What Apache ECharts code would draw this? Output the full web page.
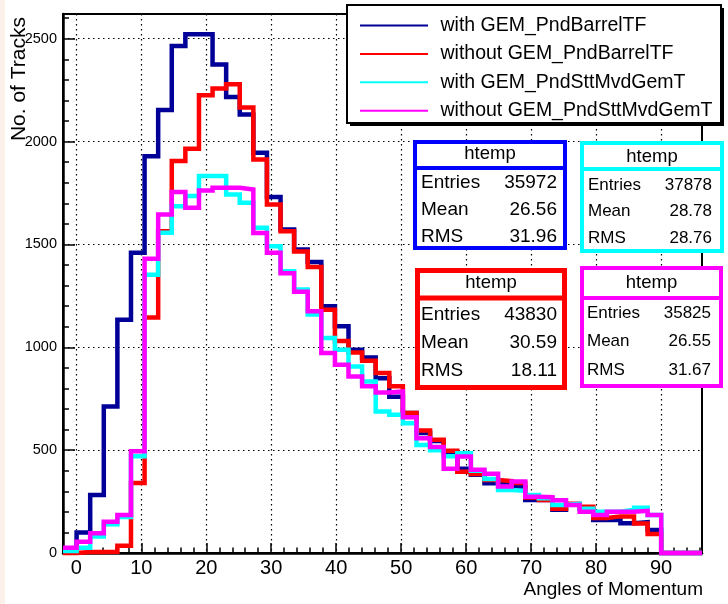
<!DOCTYPE html>
<html><head><meta charset="utf-8">
<script src="https://cdn.jsdelivr.net/npm/echarts@6/dist/echarts.min.js"></script>
<style>html,body{margin:0;padding:0;background:#fff}#c{width:728px;height:604px}</style>
</head><body><div id="c"></div>
<script>
// ---- data ----
const seriesNames = ['with GEM_PndBarrelTF', 'without GEM_PndBarrelTF', 'with GEM_PndSttMvdGemT', 'without GEM_PndSttMvdGemT'];
const xRange = [-2.05, 96.3];
const nBins = 47;
const withGemBarrel = [5, 100, 282, 712, 1134, 1459, 1929, 2153, 2465, 2522, 2522, 2375, 2217, 2132, 1946, 1731, 1572, 1475, 1415, 1199, 1102, 988, 950, 850, 760, 680, 583, 545, 490, 410, 380, 339, 330, 320, 258, 258, 210, 235, 215, 161, 161, 145, 150, 112, 0, 0, 0];
const withoutGemBarrel = [0, 5, 5, 6, 35, 340, 1145, 1564, 1905, 1965, 2225, 2258, 2278, 2165, 1913, 1694, 1564, 1465, 1390, 1183, 1030, 975, 935, 875, 810, 680, 595, 550, 497, 395, 384, 355, 350, 340, 270, 258, 215, 240, 225, 170, 178, 178, 144, 92, 0, 0, 0];
const withGemStt = [10, 25, 80, 140, 175, 470, 1353, 1557, 1686, 1735, 1832, 1832, 1743, 1702, 1581, 1491, 1370, 1281, 1159, 1045, 988, 907, 834, 688, 672, 631, 525, 500, 470, 485, 400, 360, 306, 302, 282, 266, 233, 240, 215, 201, 201, 210, 220, 185, 0, 0, 0];
const withoutGemStt = [25, 55, 96, 152, 185, 495, 1430, 1645, 1755, 1678, 1762, 1775, 1775, 1767, 1556, 1459, 1360, 1270, 1175, 972, 915, 858, 810, 780, 785, 660, 558, 515, 410, 469, 405, 385, 323, 347, 274, 271, 256, 233, 201, 185, 201, 201, 205, 185, 0, 0, 0];
const xTicks = [0, 10, 20, 30, 40, 50, 60, 70, 80, 90];
const yMax = 2620;
const xTitle = 'Angles of Momentum';
const yTitle = 'No. of Tracks';
// stats boxes: order blue, red, cyan, magenta
const statsTitle = 'htemp';
const statsEntries = ['35972', '43830', '37878', '35825'];
const statsMean = ['26.56', '30.59', '28.78', '26.55'];
const statsRms = ['31.96', '18.11', '28.76', '31.67'];

// ---- build ----
const FONT = 'Liberation Sans, Arial, Helvetica, sans-serif';
const lineColors = ['#000099', '#ff0000', '#00ffff', '#ff00ff'];
const allVals = [withGemBarrel, withoutGemBarrel, withGemStt, withoutGemStt];
const bw = (xRange[1] - xRange[0]) / nBins;
function stepData(vals) {
  const d = [];
  for (let i = 0; i < vals.length; i++) d.push([xRange[0] + i * bw, vals[i]]);
  d.push([xRange[0] + vals.length * bw, vals[vals.length - 1]]);
  return d;
}
const minorX = [];
for (let v = -2; v <= 96; v += 2) minorX.push(v);

const series = allVals.map((vals, i) => ({
  name: seriesNames[i], type: 'line', step: 'end', data: stepData(vals),
  symbol: 'none', clip: false, z: 3 + i,
  color: lineColors[i],
  lineStyle: { color: lineColors[i], width: 4.5, join: 'miter', cap: 'butt' },
  itemStyle: { color: lineColors[i] },
  emphasis: { disabled: true }
}));

const graphics = [];
// y title
graphics.push({ type: 'text', x: 19, y: 17, rotation: Math.PI / 2, z: 20,
  style: { text: yTitle, font: '21px ' + FONT, fill: '#000', align: 'right', verticalAlign: 'middle', textAlign: 'right', textVerticalAlign: 'middle' } });
// x title
graphics.push({ type: 'text', x: 703, y: 590, z: 20,
  style: { text: xTitle, font: '19px ' + FONT, fill: '#000', align: 'right', verticalAlign: 'middle', textAlign: 'right', textVerticalAlign: 'middle' } });
// legend box with shadow
graphics.push({ type: 'rect', shape: { x: 350, y: 8, width: 374, height: 118 }, z: 30, style: { fill: '#000' } });
graphics.push({ type: 'rect', shape: { x: 347, y: 5, width: 374, height: 118 }, z: 31, style: { fill: '#fff', stroke: '#000', lineWidth: 2 } });

// stats boxes
const boxes = [
  { c: '#0000ff', x: 415, y: 142, w: 150, h: 106, lw: 4, sep: 168, ty: 154, rows: [183, 210, 236.5], lx: 421, vx: 557, fs: 19 },
  { c: '#ff0000', x: 417.5, y: 270.5, w: 147, h: 117, lw: 5, sep: 298, ty: 283, rows: [315, 343, 371], lx: 421, vx: 557, fs: 19 },
  { c: '#00ffff', x: 582, y: 143, w: 140, h: 108, lw: 4, sep: 169, ty: 157, rows: [185, 211.7, 238], lx: 588, vx: 712, fs: 17 },
  { c: '#ff00ff', x: 582, y: 268, w: 139, h: 118, lw: 4, sep: 298, ty: 283, rows: [313, 341.5, 370], lx: 587, vx: 711, fs: 17 }
];
boxes.forEach((b, i) => {
  graphics.push({ type: 'rect', z: 40, shape: { x: b.x, y: b.y, width: b.w, height: b.h }, style: { fill: '#fff', stroke: b.c, lineWidth: b.lw } });
  graphics.push({ type: 'line', z: 41, shape: { x1: b.x, y1: b.sep, x2: b.x + b.w, y2: b.sep }, style: { stroke: b.c, lineWidth: b.lw } });
  graphics.push({ type: 'text', z: 42, x: b.x + b.w / 2, y: b.ty, style: { text: statsTitle, font: '18.5px ' + FONT, fill: '#000', align: 'center', verticalAlign: 'middle', textAlign: 'center', textVerticalAlign: 'middle' } });
  const labels = ['Entries', 'Mean', 'RMS'];
  const vals = [statsEntries[i], statsMean[i], statsRms[i]];
  labels.forEach((lab, r) => {
    graphics.push({ type: 'text', z: 42, x: b.lx, y: b.rows[r], style: { text: lab, font: b.fs + 'px ' + FONT, fill: '#000', align: 'left', verticalAlign: 'middle', textAlign: 'left', textVerticalAlign: 'middle' } });
    graphics.push({ type: 'text', z: 42, x: b.vx, y: b.rows[r], style: { text: vals[r], font: b.fs + 'px ' + FONT, fill: '#000', align: 'right', verticalAlign: 'middle', textAlign: 'right', textVerticalAlign: 'middle' } });
  });
});
// faint canvas edge on left
graphics.push({ type: 'rect', z: 1, shape: { x: 0, y: 0, width: 5, height: 604 }, style: { fill: '#fbf1ea' } });

const dotted = { type: [1.5, 3.5], color: '#000', width: 1.2 };
const option = {
  animation: false,
  backgroundColor: '#fff',
  grid: { left: 63, right: 26, top: 14, bottom: 51, show: true, borderColor: '#000', borderWidth: 2, backgroundColor: 'transparent', outerBoundsMode: 'none', containLabel: false },
  xAxis: [
    { type: 'value', min: xRange[0], max: xRange[1], position: 'bottom',
      axisLine: { show: true, onZero: false, lineStyle: { color: '#000', width: 2.5 } },
      axisTick: { show: true, inside: true, length: 10, customValues: xTicks, lineStyle: { color: '#000', width: 1.5 } },
      axisLabel: { show: true, customValues: xTicks, fontFamily: FONT, fontSize: 20, color: '#000', margin: 5 },
      splitLine: { show: true, lineStyle: dotted },
      minorTick: { show: false } },
    { type: 'value', min: xRange[0], max: xRange[1], position: 'bottom',
      axisLine: { show: false, onZero: false },
      axisTick: { show: true, inside: true, length: 5.5, customValues: minorX, lineStyle: { color: '#000', width: 1.5 } },
      axisLabel: { show: false }, splitLine: { show: false } }
  ],
  yAxis: [
    { type: 'value', min: 0, max: yMax, interval: 500, position: 'left',
      axisLine: { show: true, onZero: false, lineStyle: { color: '#000', width: 2.5 } },
      axisTick: { show: true, inside: true, length: 12, lineStyle: { color: '#000', width: 1.5 } },
      axisLabel: { show: true, fontFamily: FONT, fontSize: 14.5, color: '#000', margin: 6, showMaxLabel: false,
        formatter: v => (v % 500 === 0 ? String(v) : '') },
      splitLine: { show: true, lineStyle: dotted } },
    { type: 'value', min: 0, max: yMax, interval: 100, position: 'left',
      axisLine: { show: false, onZero: false },
      axisTick: { show: true, inside: true, length: 6, lineStyle: { color: '#000', width: 1.5 } },
      axisLabel: { show: false }, splitLine: { show: false } }
  ],
  legend: {
    orient: 'vertical', left: 360, top: 15.5, padding: 0, itemWidth: 68, itemHeight: 2, itemGap: 8.4, icon: 'rect',
    selectedMode: false, z: 50, data: seriesNames,
    itemStyle: { borderWidth: 0 },
    textStyle: { fontFamily: FONT, fontSize: 19.5, color: '#000', lineHeight: 20, padding: [0, 0, 0, 7.5] }
  },
  graphic: { elements: graphics },
  series: series
};
const chart = echarts.init(document.getElementById('c'), null, { renderer: 'canvas' });
chart.setOption(option);
</script></body></html>
